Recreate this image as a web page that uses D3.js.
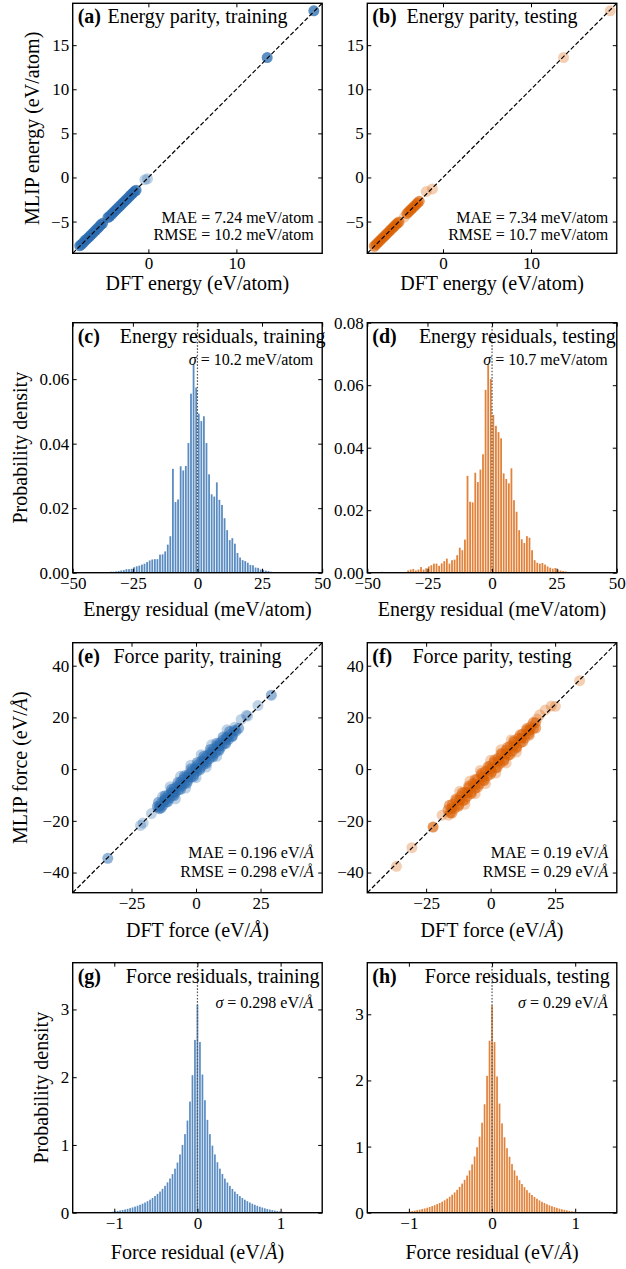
<!DOCTYPE html>
<html>
<head>
<meta charset="utf-8">
<script src="https://cdn.jsdelivr.net/npm/d3@7"></script>
<style>
  body { margin: 0; background: #fff; }
  svg { display: block; font-family: "Liberation Serif", "Times New Roman", serif; }
</style>
</head>
<body>
<script>
// ---- energy parity (eV/atom) ----
var eTrainDft = [-7.8, -7.6, -7.4, -7.2, -7.0, -6.8, -6.6, -6.4, -6.2, -6.0, -5.8, -5.6, -5.4, -5.2,
    -4.6, -4.4, -4.2, -4.0, -3.8, -3.6, -3.4, -3.2, -3.0, -2.8, -2.6, -2.4, -2.2, -2.0, -1.8, -1.6, -1.4,
    -0.4, -0.1, 13.5, 18.8]
var eTrainMlip = [-7.75, -7.6, -7.4, -7.15, -7.0, -6.8, -6.6, -6.4, -6.2, -6.0, -5.8, -5.6, -5.35, -5.2,
    -4.55, -4.4, -4.2, -4.0, -3.8, -3.6, -3.4, -3.2, -3.0, -2.8, -2.6, -2.4, -2.2, -2.0, -1.8, -1.6, -1.45,
    -0.25, -0.15, 13.6, 18.9]
var eTrainCount = [4, 4, 4, 4, 4, 4, 4, 4, 4, 4, 4, 4, 4, 4,
    4, 4, 4, 4, 4, 4, 4, 4, 4, 4, 4, 4, 4, 4, 4, 4, 4,
    1, 1, 4, 4]

var eTestDft = [-7.8, -7.6, -7.4, -7.2, -7.0, -6.8, -6.6, -6.4, -6.2, -6.0, -5.8, -5.6, -5.4, -5.2, -5.0,
    -4.4, -4.1, -3.9, -3.7, -3.5, -3.3, -3.1, -2.9, -2.7, -1.9, -1.2, 13.7, 19.0]
var eTestMlip = [-7.8, -7.6, -7.4, -7.2, -7.0, -6.8, -6.6, -6.4, -6.2, -6.0, -5.8, -5.6, -5.4, -5.2, -5.05,
    -4.5, -4.1, -3.9, -3.7, -3.5, -3.3, -3.1, -2.9, -2.7, -1.6, -1.3, 13.6, 18.9]
var eTestCount = [3, 3, 3, 3, 3, 3, 3, 3, 3, 3, 3, 3, 3, 3, 3,
    1, 3, 3, 3, 3, 3, 3, 3, 3, 1, 1, 1, 1]

// ---- energy residual histograms (meV/atom), bin centres and densities ----
var eResCenters = [-42.5, -41.5, -40.5, -39.5, -38.5, -37.5, -36.5, -35.5, -34.5, -33.5,
    -32.5, -31.5, -30.5, -29.5, -28.5, -27.5, -26.5, -25.5, -24.5, -23.5,
    -22.5, -21.5, -20.5, -19.5, -18.5, -17.5, -16.5, -15.5, -14.5, -13.5,
    -12.5, -11.5, -10.5, -9.5, -8.5, -7.5, -6.5, -5.5, -4.5, -3.5,
    -2.5, -1.5, -0.5, 0.5, 1.5, 2.5, 3.5, 4.5, 5.5, 6.5,
    7.5, 8.5, 9.5, 10.5, 11.5, 12.5, 13.5, 14.5, 15.5, 16.5,
    17.5, 18.5, 19.5, 20.5, 21.5, 22.5, 23.5, 24.5, 25.5, 26.5,
    27.5, 28.5, 29.5, 30.5, 31.5, 32.5, 33.5, 34.5, 35.5, 36.5,
    37.5, 38.5, 39.5, 40.5]
var eResTrain = [0, 0, 0, 0, 0, 0, 0.0001, 0.0001, 0.0002, 0.0003,
    0.0003, 0.0004, 0.0005, 0.0007, 0.0008, 0.0011, 0.0011, 0.0012, 0.0017, 0.002,
    0.0022, 0.0025, 0.0028, 0.0033, 0.0038, 0.0041, 0.0042, 0.0042, 0.0056, 0.0057,
    0.0066, 0.0087, 0.0113, 0.0322, 0.0219, 0.0227, 0.033, 0.0317, 0.0331, 0.0402,
    0.0555, 0.0645, 0.0574, 0.0493, 0.047, 0.0485, 0.0402, 0.0305, 0.0243, 0.0236,
    0.028, 0.0226, 0.021, 0.0169, 0.0132, 0.0101, 0.0107, 0.009, 0.0061, 0.0047,
    0.0039, 0.0036, 0.0031, 0.0024, 0.0023, 0.0016, 0.0015, 0.001, 0.0009, 0.0006,
    0.0005, 0.0003, 0.0002, 0.0002, 0.0001, 0, 0, 0, 0, 0,
    0, 0, 0, 0]
var eResTest = [0.0003, 0, 0, 0, 0, 0, 0, 0, 0, 0,
    0.0007, 0.001, 0.0012, 0.0007, 0.001, 0.0018, 0.001, 0.0014, 0.002, 0.0024,
    0.0029, 0.0029, 0.0022, 0.003, 0.0037, 0.0045, 0.0029, 0.004, 0.0042, 0.0056,
    0.008, 0.0072, 0.0106, 0.031, 0.0227, 0.0225, 0.032, 0.029, 0.033, 0.0379,
    0.0585, 0.0667, 0.062, 0.0505, 0.047, 0.045, 0.043, 0.0318, 0.03, 0.0286,
    0.0334, 0.0232, 0.0195, 0.0136, 0.0107, 0.0095, 0.0117, 0.0112, 0.0072, 0.004,
    0.0032, 0.0029, 0.0031, 0.0026, 0.002, 0.0016, 0.0013, 0.0015, 0.001, 0.0007,
    0.0005, 0.0004, 0.0002, 0.0002, 0, 0.0002, 0, 0, 0, 0,
    0, 0, 0.0002, 0]

// ---- force parity (eV/A) ----
var fTrainDft = [-34.2, -21.5, -20.5, -17.3, -14.0, -14.6,
    -15.0, -14.2, -13.5, -12.8, -12.0, -11.5, -10.8, -10.2, -9.6, -9.0,
    -8.5, -8.0, -7.4, -6.8, -6.2, -5.6, -5.0, -4.5, -3.9, -3.3,
    -2.7, -2.1, -1.5, -0.9, -0.3, 0.3, 0.9, 1.5, 2.1, 2.7,
    3.3, 3.9, 4.5, 5.1, 5.7, 6.3, 6.9, 7.5, 8.1, 8.7,
    9.3, 9.9, 10.5, 11.1, 11.8, 12.5, 13.2, 14.0, 14.8, 15.5, 16.5,
    -12.0, -9.0, -6.0, -3.0, 0.0, 3.0, 6.0, 9.0, 12.0,
    15.0, 17.5, 19.5, 20.0, 24.0, 29.2,
    -14.5, -12.0, -9.5, -7.0, -4.5, -2.0, 0.5, 3.0, 5.5, 8.0, 10.5, 13.0,
    -13.5, -11.0, -8.5, -6.0, -3.5, -1.0, 1.5, 4.0, 6.5, 9.0, 11.5, 14.0,
    -10.0, -6.0, -2.0, 2.0, 6.0, -8.0, -4.0, 0.0, 4.0, 8.0, 12.0, -13.0]
var fTrainMlip = [-34.5, -21.8, -20.8, -17.2, -14.3, -14.9,
    -14.5, -15.3, -13.2, -13.9, -11.4, -12.6, -10.2, -11.2, -9.0, -10.1,
    -7.6, -9.0, -6.8, -7.9, -5.3, -6.6, -4.1, -5.6, -3.0, -4.4,
    -1.9, -3.2, -0.6, -2.0, 0.5, -0.8, 1.8, 0.4, 3.0, 1.6,
    4.2, 2.8, 5.4, 4.0, 6.6, 5.2, 7.8, 6.4, 9.0, 7.6,
    10.1, 8.9, 11.2, 10.1, 12.3, 11.4, 13.4, 12.9, 14.9, 14.7, 15.8,
    -12.0, -9.0, -6.0, -3.0, 0.0, 3.0, 6.0, 9.0, 12.0,
    16.2, 19.2, 20.8, 20.5, 24.6, 28.6,
    -12.8, -10.3, -7.8, -5.1, -2.6, 0.1, 2.6, 5.0, 7.6, 10.0, 12.4, 14.6,
    -15.0, -12.7, -10.2, -7.8, -5.4, -2.9, -0.3, 2.2, 4.7, 7.3, 9.9, 12.6,
    -6.8, -2.8, 1.5, 5.6, 9.4, -11.5, -7.3, -3.3, 0.8, 4.9, 15.2, -10.6]
var fTrainCount = [2, 1, 1, 1, 2, 1,
    2, 2, 2, 2, 2, 2, 2, 2, 2, 2,
    2, 2, 2, 2, 2, 2, 2, 2, 2, 2,
    2, 2, 2, 2, 2, 2, 2, 2, 2, 2,
    2, 2, 2, 2, 2, 2, 2, 2, 2, 2,
    2, 2, 2, 2, 2, 2, 2, 2, 2, 2, 2,
    3, 3, 3, 3, 3, 3, 3, 3, 3,
    1, 1, 1, 1, 1, 2,
    2, 2, 2, 2, 2, 2, 2, 2, 2, 2, 2, 2,
    2, 2, 2, 2, 2, 2, 2, 2, 2, 2, 2, 2,
    1, 1, 1, 1, 1, 1, 1, 1, 1, 1, 1, 1]

var fTestDft = [-36.5, -30.5, -22.3, -18.8, -16.3,
    -16.5, -15.6, -14.8, -14.0, -13.2, -12.4, -11.6, -10.8, -10.0, -9.2,
    -8.4, -7.6, -6.8, -6.0, -5.2, -4.4, -3.6, -2.8, -2.0, -1.2,
    -0.4, 0.4, 1.2, 2.0, 2.8, 3.6, 4.4, 5.2, 6.0, 6.8,
    7.6, 8.4, 9.2, 10.0, 10.8, 11.6, 12.4, 13.2, 14.0, 14.8,
    15.6, 16.6, 17.4,
    -15.0, -12.0, -9.0, -6.0, -3.0, 0.0, 3.0, 6.0, 9.0, 12.0, 15.0,
    18.0, 21.2, 23.5, 25.1, 34.5,
    -16.0, -13.5, -11.0, -8.5, -6.0, -3.5, -1.0, 1.5, 4.0, 6.5, 9.0, 11.5, 14.0, 16.5,
    -15.0, -12.5, -10.0, -7.5, -5.0, -2.5, 0.0, 2.5, 5.0, 7.5, 10.0, 12.5, 15.0, 17.5,
    -12.0, -8.0, -4.0, 0.0, 4.0, 8.0, -10.0, -6.0, -2.0, 2.0, 6.0, 10.0, 19.0]
var fTestMlip = [-37.6, -30.4, -22.4, -17.8, -17.8,
    -15.8, -16.9, -13.6, -15.2, -12.0, -13.8, -10.5, -12.2, -8.9, -10.6,
    -7.2, -9.0, -5.6, -7.4, -4.0, -5.8, -2.4, -4.2, -0.8, -2.6,
    0.9, -1.0, 2.5, 0.6, 4.1, 2.2, 5.7, 3.8, 7.3, 5.4,
    8.9, 7.0, 10.4, 8.6, 12.0, 10.3, 13.5, 12.0, 15.0, 13.8,
    16.4, 15.8, 17.9,
    -15.0, -12.0, -9.0, -6.0, -3.0, 0.0, 3.0, 6.0, 9.0, 12.0, 15.0,
    19.4, 22.9, 24.4, 24.3, 34.2,
    -14.0, -11.6, -9.1, -6.5, -4.0, -1.6, 1.0, 3.5, 6.0, 8.4, 11.0, 13.3, 15.7, 18.0,
    -17.0, -14.4, -11.9, -9.5, -7.0, -4.4, -1.9, 0.6, 3.1, 5.6, 8.2, 10.6, 13.2, 15.9,
    -8.6, -4.6, -0.5, 3.4, 7.5, 11.3, -13.6, -9.5, -5.6, -1.5, 2.4, 6.6, 21.0]
var fTestCount = [1, 1, 3, 1, 1,
    2, 2, 2, 2, 2, 2, 2, 2, 2, 2,
    2, 2, 2, 2, 2, 2, 2, 2, 2, 2,
    2, 2, 2, 2, 2, 2, 2, 2, 2, 2,
    2, 2, 2, 2, 2, 2, 2, 2, 2, 2,
    2, 2, 2,
    3, 3, 3, 3, 3, 3, 3, 3, 3, 3, 3,
    1, 1, 1, 1, 1,
    2, 2, 2, 2, 2, 2, 2, 2, 2, 2, 2, 2, 2, 2,
    2, 2, 2, 2, 2, 2, 2, 2, 2, 2, 2, 2, 2, 2,
    1, 1, 1, 1, 1, 1, 1, 1, 1, 1, 1, 1, 1]

// ---- force residual histograms (eV/A), bin centres and densities ----
var fResCenters = [-1.05, -1.02, -0.99, -0.96, -0.93, -0.90, -0.87, -0.84, -0.81, -0.78,
    -0.75, -0.72, -0.69, -0.66, -0.63, -0.60, -0.57, -0.54, -0.51, -0.48,
    -0.45, -0.42, -0.39, -0.36, -0.33, -0.30, -0.27, -0.24, -0.21, -0.18,
    -0.15, -0.12, -0.09, -0.06, -0.03, 0,
    0.03, 0.06, 0.09, 0.12, 0.15, 0.18, 0.21, 0.24, 0.27, 0.30,
    0.33, 0.36, 0.39, 0.42, 0.45, 0.48, 0.51, 0.54, 0.57, 0.60,
    0.63, 0.66, 0.69, 0.72, 0.75, 0.78, 0.81, 0.84, 0.87, 0.90,
    0.93, 0.96, 0.99, 1.02, 1.05]
var fResTrain = [0.008, 0.014, 0.02, 0.026, 0.033, 0.04, 0.048, 0.057, 0.067, 0.078,
    0.09, 0.103, 0.117, 0.133, 0.15, 0.17, 0.192, 0.218, 0.246, 0.278,
    0.312, 0.352, 0.397, 0.448, 0.505, 0.57, 0.65, 0.74, 0.86, 1.0,
    1.16, 1.36, 1.64, 2.03, 2.55, 3.07,
    2.52, 2.04, 1.66, 1.37, 1.16, 0.99, 0.86, 0.745, 0.65, 0.572,
    0.503, 0.446, 0.396, 0.351, 0.311, 0.276, 0.245, 0.217, 0.192, 0.17,
    0.15, 0.132, 0.116, 0.101, 0.088, 0.076, 0.065, 0.055, 0.046, 0.038,
    0.031, 0.024, 0.018, 0.013, 0.008]
var fResTest = [0.007, 0.012, 0.018, 0.024, 0.031, 0.038, 0.046, 0.055, 0.064, 0.075,
    0.087, 0.1, 0.114, 0.13, 0.147, 0.166, 0.188, 0.213, 0.241, 0.272,
    0.307, 0.346, 0.39, 0.44, 0.497, 0.562, 0.64, 0.73, 0.85, 0.99,
    1.15, 1.36, 1.64, 2.07, 2.6, 3.13,
    2.58, 2.06, 1.65, 1.35, 1.14, 0.975, 0.845, 0.735, 0.64, 0.56,
    0.492, 0.434, 0.385, 0.341, 0.302, 0.268, 0.238, 0.211, 0.187, 0.165,
    0.146, 0.128, 0.112, 0.098, 0.085, 0.073, 0.062, 0.052, 0.043, 0.035,
    0.028, 0.022, 0.016, 0.011, 0.007]

// tick values
var eParityXTicks = [0, 10], eParityYTicks = [-5, 0, 5, 10, 15]
var eResXTicks = [-50, -25, 0, 25, 50]
var fParityTicksX = [-25, 0, 25], fParityTicksY = [-40, -20, 0, 20, 40]
var fResXTicks = [-1, 0, 1], fResYTicks = [0, 1, 2, 3]

var width = 626, height = 1269;
var colX = [72.7, 367.3], rowY = [3.3, 322.7, 642.7, 962.7];
var pw = 249.5, ph = 250;
var blue = "#2b6cb0", orange = "#d95f02";
var fontLabel = 20, fontTick = 17, fontNote = 16;

var svg = d3.select("body").append("svg")
    .attr("width", width)
    .attr("height", height);
var defs = svg.append("defs");

// text with italic bits: parts = [[string, italic?], ...]
function rich(t, parts) {
    parts.forEach(p => {
        t.append("tspan").text(p[0]).attr("font-style", p[1] ? "italic" : null)
    })
    return t
}

function makeAxes(g, x, y, xt, yt, xf, yf) {
    var gx = g.append("g").attr("transform", `translate(0,${ph})`)
        .call(d3.axisBottom(x).tickValues(xt).tickFormat(xf).tickSizeInner(-4).tickSizeOuter(0).tickPadding(4))
    var gy = g.append("g")
        .call(d3.axisLeft(y).tickValues(yt).tickFormat(yf).tickSizeInner(-4).tickSizeOuter(0).tickPadding(3.5))
    var gt = g.append("g")
        .call(d3.axisTop(x).tickValues(xt).tickFormat("").tickSizeInner(-4).tickSizeOuter(0))
    var gr = g.append("g").attr("transform", `translate(${pw},0)`)
        .call(d3.axisRight(y).tickValues(yt).tickFormat("").tickSizeInner(-4).tickSizeOuter(0))
    ;[gx, gy, gt, gr].forEach(a => {
        a.select(".domain").remove()
        a.attr("font-family", null).attr("font-size", fontTick)
        a.selectAll("line").attr("stroke", "#000").attr("stroke-width", 1)
        a.selectAll("text").attr("fill", "#000")
    })
    g.append("rect")
        .attr("width", pw).attr("height", ph)
        .attr("fill", "none").attr("stroke", "#000").attr("stroke-width", 1.4)
}

function header(g, tag, title, titleX) {
    g.append("text").attr("x", 5).attr("y", 20)
        .attr("font-size", fontLabel).attr("font-weight", "bold").text(tag)
    g.append("text").attr("x", titleX).attr("y", 20)
        .attr("font-size", fontLabel).attr("text-anchor", "middle").text(title)
}

function parityPanel(o) {
    var g = svg.append("g").attr("transform", `translate(${colX[o.col]},${rowY[o.row]})`)
    defs.append("clipPath").attr("id", "clip" + o.tag)
        .append("rect").attr("width", pw).attr("height", ph)
    var x = d3.scaleLinear().domain(o.domain).range([0, pw])
    var y = d3.scaleLinear().domain(o.domain).range([ph, 0])

    var pts = g.append("g").attr("clip-path", `url(#clip${o.tag})`)
    pts.selectAll("circle")
        .data(d3.range(o.xs.length)).enter()
        .append("circle")
        .attr("cx", i => x(o.xs[i]))
        .attr("cy", i => y(o.ys[i]))
        .attr("r", 5.5)
        .attr("fill", o.color)
        .attr("fill-opacity", i => 1 - Math.pow(0.7, o.n[i]))
    // y = x guide
    pts.append("line")
        .attr("x1", x(o.domain[0])).attr("y1", y(o.domain[0]))
        .attr("x2", x(o.domain[1])).attr("y2", y(o.domain[1]))
        .attr("stroke", "#000").attr("stroke-width", 1.2).attr("stroke-dasharray", "4.5,2.2")

    makeAxes(g, x, y, o.xt, o.yt, d3.format("d"), d3.format("d"))
    header(g, "(" + o.tag + ")", o.title, pw / 2)

    g.append("text").attr("x", pw - 8.5).attr("y", ph - o.statOff[0])
        .attr("font-size", fontNote).attr("text-anchor", "end")
        .call(t => rich(t, o.mae))
    g.append("text").attr("x", pw - 8.5).attr("y", ph - o.statOff[1])
        .attr("font-size", fontNote).attr("text-anchor", "end")
        .call(t => rich(t, o.rmse))

    if (o.xlabel) g.append("text").attr("x", pw / 2).attr("y", ph + o.xlabOff)
        .attr("font-size", fontLabel).attr("text-anchor", "middle")
        .call(t => rich(t, o.xlabel))
    if (o.ylabel) g.append("text")
        .attr("transform", `translate(${o.ylabOff},${ph / 2}) rotate(-90)`)
        .attr("font-size", fontLabel).attr("text-anchor", "middle")
        .call(t => rich(t, o.ylabel))
}

function histPanel(o) {
    var g = svg.append("g").attr("transform", `translate(${colX[o.col]},${rowY[o.row]})`)
    var x = d3.scaleLinear().domain(o.xdomain).range([0, pw]).clamp(true)
    var y = d3.scaleLinear().domain([0, o.ymax]).range([ph, 0])
    var bw = o.binWidth

    g.append("g").selectAll("rect")
        .data(d3.range(o.centers.length).filter(i => o.h[i] > 0)).enter()
        .append("rect")
        .attr("x", i => x(o.centers[i] - bw / 2) + 0.4)
        .attr("width", i => x(o.centers[i] + bw / 2) - x(o.centers[i] - bw / 2) - 0.8)
        .attr("y", i => y(o.h[i]))
        .attr("height", i => y(0) - y(o.h[i]))
        .attr("fill", o.color)
        .attr("fill-opacity", 0.78)

    g.append("line")
        .attr("x1", x(0)).attr("x2", x(0)).attr("y1", 0).attr("y2", ph)
        .attr("stroke", "#555").attr("stroke-width", 1.2).attr("stroke-dasharray", "1.6,1.6")

    makeAxes(g, x, y, o.xt, o.yt, o.xf, o.yf)
    header(g, "(" + o.tag + ")", o.title, 150)

    g.append("text").attr("x", pw - 9).attr("y", o.sigmaY)
        .attr("font-size", fontNote).attr("text-anchor", "end")
        .call(t => rich(t, o.sigma))

    g.append("text").attr("x", pw / 2).attr("y", ph + o.xlabOff)
        .attr("font-size", fontLabel).attr("text-anchor", "middle")
        .call(t => rich(t, o.xlabel))
    if (o.ylabel) g.append("text")
        .attr("transform", `translate(${o.ylabOff},${ph / 2}) rotate(-90)`)
        .attr("font-size", fontLabel).attr("text-anchor", "middle")
        .text(o.ylabel)
}

var eDomain = [-8.6, 19.75], fDomain = [-47.8, 48.9];

parityPanel({ col: 0, row: 0, tag: "a", title: "Energy parity, training", color: blue,
    xs: eTrainDft, ys: eTrainMlip, n: eTrainCount, domain: eDomain,
    xt: eParityXTicks, yt: eParityYTicks, statOff: [30.3, 13.7],
    mae: [["MAE = 7.24 meV/atom"]], rmse: [["RMSE = 10.2 meV/atom"]],
    xlabel: [["DFT energy (eV/atom)"]], xlabOff: 36.5,
    ylabel: [["MLIP energy (eV/atom)"]], ylabOff: -33.7 })
parityPanel({ col: 1, row: 0, tag: "b", title: "Energy parity, testing", color: orange,
    xs: eTestDft, ys: eTestMlip, n: eTestCount, domain: eDomain,
    xt: eParityXTicks, yt: eParityYTicks, statOff: [30.3, 13.7],
    mae: [["MAE = 7.34 meV/atom"]], rmse: [["RMSE = 10.7 meV/atom"]],
    xlabel: [["DFT energy (eV/atom)"]], xlabOff: 36.5 })

histPanel({ col: 0, row: 1, tag: "c", title: "Energy residuals, training", color: blue,
    centers: eResCenters, h: eResTrain, binWidth: 1, xdomain: [-48.3, 48.3], ymax: 0.0775,
    xt: eResXTicks, yt: [0, 0.02, 0.04, 0.06], xf: d3.format("d"), yf: d3.format(".2f"),
    sigma: [["σ", true], [" = 10.2 meV/atom"]], sigmaY: 42.5,
    xlabel: [["Energy residual (meV/atom)"]], xlabOff: 43.5,
    ylabel: "Probability density", ylabOff: -45.2 })
histPanel({ col: 1, row: 1, tag: "d", title: "Energy residuals, testing", color: orange,
    centers: eResCenters, h: eResTest, binWidth: 1, xdomain: [-48.3, 48.3], ymax: 0.08,
    xt: eResXTicks, yt: [0, 0.02, 0.04, 0.06, 0.08], xf: d3.format("d"), yf: d3.format(".2f"),
    sigma: [["σ", true], [" = 10.7 meV/atom"]], sigmaY: 42.5,
    xlabel: [["Energy residual (meV/atom)"]], xlabOff: 43.5 })

parityPanel({ col: 0, row: 2, tag: "e", title: "Force parity, training", color: blue,
    xs: fTrainDft, ys: fTrainMlip, n: fTrainCount, domain: fDomain,
    xt: fParityTicksX, yt: fParityTicksY, statOff: [34.4, 16],
    mae: [["MAE = 0.196 eV/"], ["Å", true]], rmse: [["RMSE = 0.298 eV/"], ["Å", true]],
    xlabel: [["DFT force (eV/"], ["Å", true], [")"]], xlabOff: 44,
    ylabel: [["MLIP force (eV/"], ["Å", true], [")"]], ylabOff: -46 })
parityPanel({ col: 1, row: 2, tag: "f", title: "Force parity, testing", color: orange,
    xs: fTestDft, ys: fTestMlip, n: fTestCount, domain: fDomain,
    xt: fParityTicksX, yt: fParityTicksY, statOff: [34.4, 16],
    mae: [["MAE = 0.19 eV/"], ["Å", true]], rmse: [["RMSE = 0.29 eV/"], ["Å", true]],
    xlabel: [["DFT force (eV/"], ["Å", true], [")"]], xlabOff: 44 })

histPanel({ col: 0, row: 3, tag: "g", title: "Force residuals, training", color: blue,
    centers: fResCenters, h: fResTrain, binWidth: 0.03, xdomain: [-1.5, 1.5], ymax: 3.69,
    xt: fResXTicks, yt: fResYTicks, xf: d3.format("d"), yf: d3.format("d"),
    sigma: [["σ", true], [" = 0.298 eV/"], ["Å", true]], sigmaY: 45.5,
    xlabel: [["Force residual (eV/"], ["Å", true], [")"]], xlabOff: 46.6,
    ylabel: "Probability density", ylabOff: -24.4 })
histPanel({ col: 1, row: 3, tag: "h", title: "Force residuals, testing", color: orange,
    centers: fResCenters, h: fResTest, binWidth: 0.03, xdomain: [-1.5, 1.5], ymax: 3.78,
    xt: fResXTicks, yt: fResYTicks, xf: d3.format("d"), yf: d3.format("d"),
    sigma: [["σ", true], [" = 0.29 eV/"], ["Å", true]], sigmaY: 45.5,
    xlabel: [["Force residual (eV/"], ["Å", true], [")"]], xlabOff: 46.6 })
</script>
</body>
</html>
